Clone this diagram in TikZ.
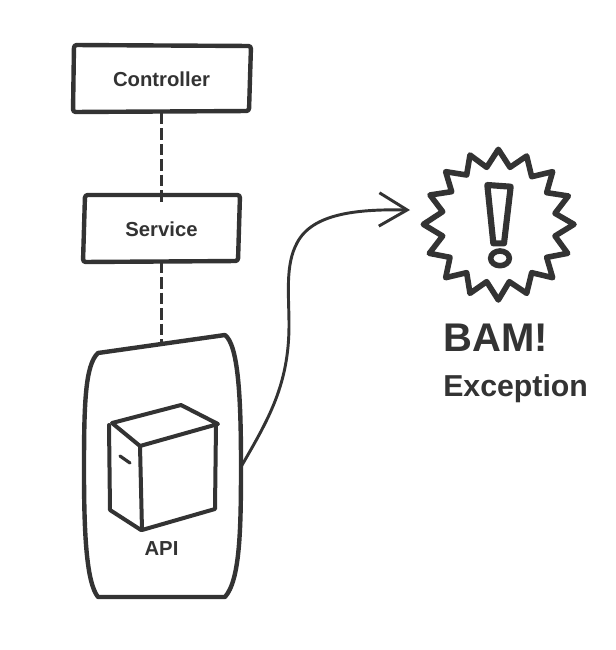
\documentclass[tikz,border=0pt]{standalone}
\usepackage{fontspec}
\setmainfont{Liberation Sans}
\usetikzlibrary{arrows.meta}
\definecolor{ink}{HTML}{333333}
\tikzset{
  outline/.style={draw=ink,line width=3.3pt,line join=round,line cap=round},
  iconline/.style={draw=ink,line width=3pt,line join=round,line cap=round},
  dashlink/.style={draw=ink,line width=2.5pt,dash pattern=on 8.6pt off 3pt},
  flow/.style={draw=ink,line width=2.2pt,-{Straight Barb[length=21pt,width=25pt,line width=2.2pt]}},
  boxlabel/.style={text=ink,font=\bfseries\fontsize{15.2pt}{18pt}\selectfont,inner sep=0pt,outer sep=0pt,anchor=center},
  bigtext/.style={text=ink,font=\bfseries\fontsize{30pt}{34pt}\selectfont,inner sep=0pt,anchor=west},
  midtext/.style={text=ink,font=\bfseries\fontsize{22.7pt}{26pt}\selectfont,inner sep=0pt,anchor=west},
  bangline/.style={draw=ink,line join=round,line cap=round}
}
\begin{document}
\begin{tikzpicture}[x=0.75pt,y=-0.75pt]
\useasboundingbox[fill=white] (0,0) rectangle (616,650);
% named frames (invisible) and labels
\node[boxlabel,minimum width=132pt,minimum height=50pt] (ctrl) at (161.5,79.5) {Controller};
\node[boxlabel,minimum width=116pt,minimum height=49pt] (svc) at (161.5,229) {Service};
\node[inner sep=0pt,outer sep=0pt,minimum width=118.5pt,minimum height=196pt] (apibody) at (162.5,466) {};
\node[boxlabel] (apilabel) at (161.5,548.5) {API};
\coordinate (hit) at (410,210);
\coordinate (svcin) at (161.5,201.5);
\coordinate (apiin) at (161.5,344);
% connectors
\draw[dashlink] (ctrl.south) -- (svcin);
\draw[dashlink] (svc.south) -- (apiin);
\draw[flow] (apibody.east) .. controls (268,420) and (289,385) .. (289,325)
   .. controls (289,295) and (285,265) .. (297,243)
   .. controls (312,214) and (355,209) .. (hit);
% boxes
\draw[outline,rounded corners=2pt] (74,45) -- (251,46) -- (249,111) -- (73,112) -- cycle;
\draw[outline,rounded corners=2pt] (85,195) -- (240,195) -- (238,261) -- (83,262) -- cycle;
\draw[outline] (98,353) -- (225,335)
   .. controls (238,345) and (241,395) .. (241,465)
   .. controls (241,530) and (240,580) .. (225,597)
   -- (98,597)
   .. controls (86,582) and (84,530) .. (84,470)
   .. controls (84,405) and (85,365) .. (98,353) -- cycle;
% server icon
\draw[iconline] (112,423) -- (181,405) -- (218,424) -- (140,446) -- cycle;
\draw[iconline] (109,425) -- (110,510) -- (141,530);
\draw[iconline] (140,446) -- (142,530) -- (215,509) -- (216,424);
\draw[iconline,line width=2.4pt] (120,456) -- (130,463);
% burst
\begin{scope}[xshift=300pt,yshift=-97.5pt,x=0.25pt,y=-0.25pt]
\draw[bangline,line width=4.2pt] (295,58) -- (330,112) -- (380,78) -- (395,140) -- (458,125) -- (440,188) -- (505,198) -- (465,250) -- (522,283) -- (465,318) -- (503,370) -- (440,382) -- (458,443) -- (395,428) -- (380,490) -- (328,455) -- (295,510) -- (260,455) -- (210,490) -- (200,428) -- (137,443) -- (150,382) -- (88,370) -- (128,318) -- (70,283) -- (128,245) -- (90,195) -- (155,185) -- (137,125) -- (200,135) -- (210,75) -- (260,112) -- cycle;
\draw[bangline,line width=4.6pt] (262,165) -- (332,170) -- (312,340) -- (280,340) -- cycle;
\draw[bangline,line width=4.2pt] (300,385) ellipse [x radius=28,y radius=22];
\end{scope}
% texts
\node[bigtext] (bam) at (443,338) {BAM!};
\node[midtext] (exc) at (443,388.5) {Exception};
\end{tikzpicture}
\end{document}
